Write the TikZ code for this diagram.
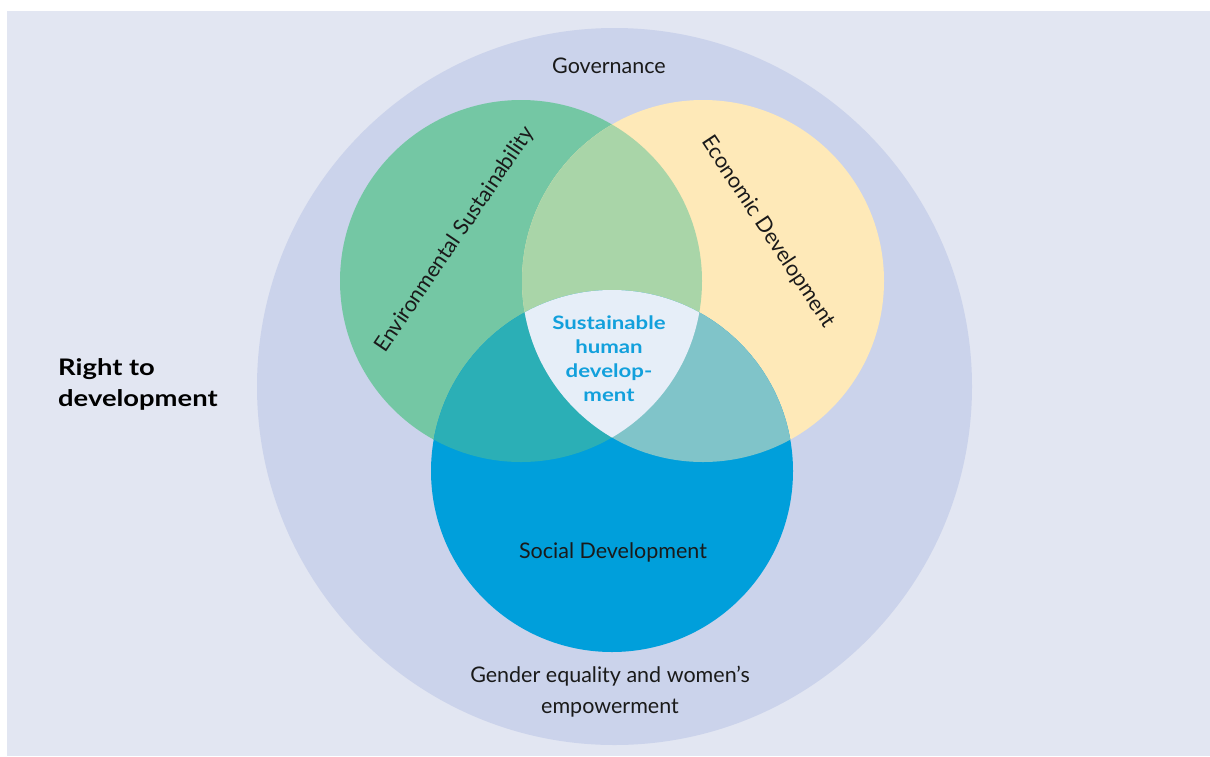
\documentclass[tikz,border=0pt]{standalone}
\usepackage{fontspec}
\setmainfont{Lato}
\newfontfamily\widebold[FakeStretch=1.2]{Lato Bold}
\definecolor{bgc}{HTML}{E2E6F2}
\definecolor{outerc}{HTML}{CBD3EB}
\definecolor{envc}{HTML}{74C7A4}
\definecolor{ecoc}{HTML}{FEE9B8}
\definecolor{socc}{HTML}{009FDB}
\definecolor{envecoc}{HTML}{A9D5A8}
\definecolor{envsocc}{HTML}{2BAFB6}
\definecolor{ecosocc}{HTML}{80C4C9}
\definecolor{centerc}{HTML}{E6EEF8}
\definecolor{txtc}{HTML}{1A1A1A}
\definecolor{ctrtxt}{HTML}{12A0DC}
\tikzset{
  lbl/.style={text=txtc, font=\fontsize{21.5}{31}\selectfont, align=center, inner sep=0pt},
  boldlbl/.style={text=black, font=\widebold\fontsize{22.8}{31}\selectfont, align=left, inner sep=0pt},
  ctrlbl/.style={text=ctrtxt, font=\widebold\fontsize{18.5}{24}\selectfont, align=center, inner sep=0pt}
}
\begin{document}
\begin{tikzpicture}[x=1pt,y=-1pt]
\useasboundingbox (0,0) rectangle (1210,756);
\fill[white] (0,0) rectangle (1210,756);
\fill[bgc] (7,11) rectangle (1210,756);
% outer governance circle
\fill[outerc] (614.5,386.5) ellipse [x radius=357.5, y radius=358.5];
\coordinate (E) at (521,281);
\coordinate (Y) at (703,281);
\coordinate (S) at (612,471);
\def\R{181}
\fill[envc] (E) circle (\R);
\fill[ecoc] (Y) circle (\R);
\fill[socc] (S) circle (\R);
\begin{scope}
  \clip (E) circle (\R);
  \fill[envecoc] (Y) circle (\R);
\end{scope}
\begin{scope}
  \clip (E) circle (\R);
  \fill[envsocc] (S) circle (\R);
\end{scope}
\begin{scope}
  \clip (Y) circle (\R);
  \fill[ecosocc] (S) circle (\R);
\end{scope}
\begin{scope}
  \clip (E) circle (\R);
  \clip (Y) circle (\R);
  \fill[centerc] (S) circle (\R);
\end{scope}
% labels
\node[lbl] (gov) at (609,66) {Governance};
\node[lbl] (gender) at (610,692) {Gender equality and women’s\\empowerment};
\node[lbl] (soc) at (613,552) {Social Development};
\node[lbl, rotate=56] (env) at (455,240) {Environmental Sustainability};
\node[lbl, rotate=-56.5] (eco) at (768,232) {Economic Development};
\node[boldlbl, anchor=west] (rtd) at (58,384) {Right to\\development};
\node[ctrlbl] (shd) at (609,359) {Sustainable\\human\\develop-\\ment};
\end{tikzpicture}
\end{document}
